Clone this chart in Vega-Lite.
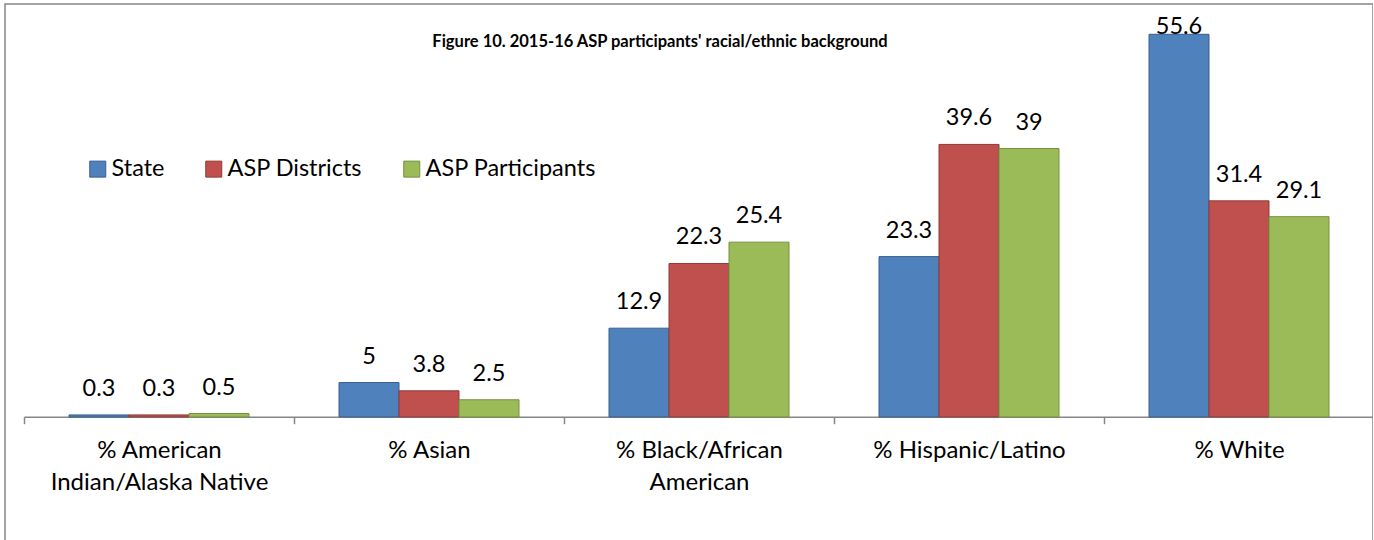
{
  "$schema": "https://vega.github.io/schema/vega-lite/v6.json",
  "width": 1368,
  "height": 541,
  "autosize": {"type": "none"},
  "padding": {"left": 5, "top": 4, "right": 0, "bottom": 0},
  "background": "white",
  "config": {"view": {"stroke": "#868686", "strokeWidth": 1.5}, "font": "Lato"},
  "title": {
    "text": "Figure 10. 2015-16 ASP participants' racial/ethnic background",
    "font": "Lato", "fontSize": 16.5, "fontWeight": "bold", "color": "#000000",
    "anchor": "middle", "frame": "group", "dx": -29, "dy": 59, "offset": 0, "baseline": "alphabetic"
  },
  "data": {
    "values": [
      {"category": "% American Indian/Alaska Native", "series": "State", "value": 0.3},
      {"category": "% American Indian/Alaska Native", "series": "ASP Districts", "value": 0.3},
      {"category": "% American Indian/Alaska Native", "series": "ASP Participants", "value": 0.5},
      {"category": "% Asian", "series": "State", "value": 5},
      {"category": "% Asian", "series": "ASP Districts", "value": 3.8},
      {"category": "% Asian", "series": "ASP Participants", "value": 2.5},
      {"category": "% Black/African American", "series": "State", "value": 12.9},
      {"category": "% Black/African American", "series": "ASP Districts", "value": 22.3},
      {"category": "% Black/African American", "series": "ASP Participants", "value": 25.4},
      {"category": "% Hispanic/Latino", "series": "State", "value": 23.3},
      {"category": "% Hispanic/Latino", "series": "ASP Districts", "value": 39.6},
      {"category": "% Hispanic/Latino", "series": "ASP Participants", "value": 39},
      {"category": "% White", "series": "State", "value": 55.6},
      {"category": "% White", "series": "ASP Districts", "value": 31.4},
      {"category": "% White", "series": "ASP Participants", "value": 29.1}
    ]
  },
  "encoding": {
    "x": {
      "field": "category", "type": "nominal", "sort": null, "title": null,
      "scale": {"range": [19, 1369], "paddingInner": 0, "paddingOuter": 0},
      "axis": {
        "orient": "bottom", "offset": -128.3, "grid": false,
        "domainColor": "#868686", "domainWidth": 1.5,
        "tickColor": "#868686", "tickWidth": 1.5, "tickSize": 7, "tickBand": "extent",
        "labelFont": "Lato", "labelFontSize": 24, "labelColor": "#000000",
        "labelPadding": 15, "labelBaseline": "top", "labelLineHeight": 32,
        "labelAngle": 0, "labelOverlap": false, "labelBound": false, "labelLimit": 0, "labelFlush": false,
        "labelExpr": "datum.label == '% American Indian/Alaska Native' ? ['% American', 'Indian/Alaska Native'] : datum.label == '% Black/African American' ? ['% Black/African', 'American'] : datum.label"
      }
    },
    "xOffset": {
      "field": "series", "type": "nominal", "sort": ["State", "ASP Districts", "ASP Participants"],
      "scale": {"paddingInner": 0, "paddingOuter": 0.75}
    },
    "y": {
      "field": "value", "type": "quantitative", "axis": null,
      "scale": {"domain": [-18.6, 60], "nice": false, "zero": false}
    }
  },
  "layer": [
    {
      "mark": {"type": "bar", "strokeWidth": 1},
      "encoding": {
        "y2": {"datum": 0},
        "fill": {
          "field": "series", "type": "nominal", "sort": ["State", "ASP Districts", "ASP Participants"],
          "scale": {"domain": ["State", "ASP Districts", "ASP Participants"], "range": ["#4F81BD", "#C0504D", "#9BBB59"]},
          "legend": {
            "orient": "none", "legendX": 81, "legendY": 153, "direction": "horizontal", "title": null,
            "symbolType": "square", "symbolSize": 256, "symbolStrokeWidth": 1,
            "labelFont": "Lato", "labelFontSize": 23.5, "labelColor": "#000000", "labelOffset": 2,
            "columnPadding": 37, "padding": 0, "labelLimit": 0
          }
        },
        "stroke": {
          "field": "series", "type": "nominal", "sort": ["State", "ASP Districts", "ASP Participants"],
          "scale": {"domain": ["State", "ASP Districts", "ASP Participants"], "range": ["#3A5F8C", "#8E3B38", "#74903F"]},
          "legend": {
            "orient": "none", "legendX": 81, "legendY": 153, "direction": "horizontal", "title": null,
            "symbolType": "square", "symbolSize": 256, "symbolStrokeWidth": 1,
            "labelFont": "Lato", "labelFontSize": 23.5, "labelColor": "#000000", "labelOffset": 2,
            "columnPadding": 37, "padding": 0, "labelLimit": 0
          }
        }
      }
    },
    {
      "transform": [{"filter": "datum.value < 50"}],
      "mark": {"type": "text", "baseline": "alphabetic", "dy": -19, "fontSize": 23.5, "font": "Lato", "color": "#000000"},
      "encoding": {"text": {"field": "value", "type": "quantitative"}}
    },
    {
      "transform": [{"filter": "datum.value >= 50"}],
      "mark": {"type": "text", "baseline": "alphabetic", "dy": 0, "fontSize": 23.5, "font": "Lato", "color": "#000000"},
      "encoding": {"text": {"field": "value", "type": "quantitative"}}
    }
  ]
}
